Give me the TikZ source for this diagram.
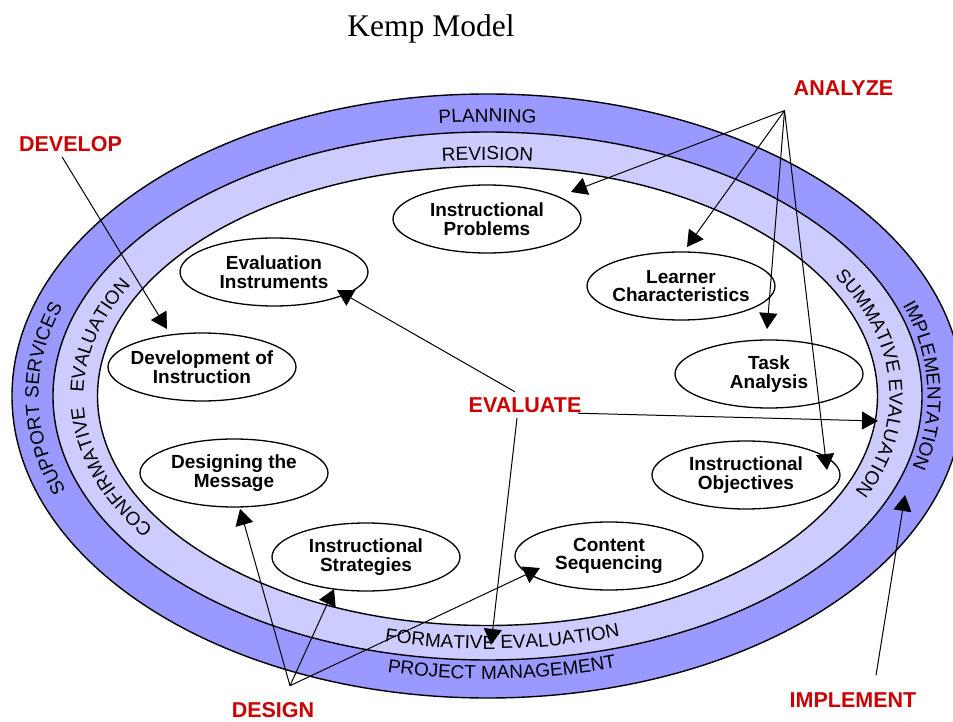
\documentclass[tikz,border=0pt]{standalone}
\usepackage{fontspec}
\setmainfont{Liberation Serif}
\setsansfont{Liberation Sans}
\usetikzlibrary{shapes.geometric,arrows.meta,decorations.text,calc}

\definecolor{outerband}{RGB}{153,153,255}
\definecolor{innerband}{RGB}{204,204,255}
\definecolor{phase}{RGB}{204,0,0}

\newcommand\ringfont{\sffamily\fontsize{19}{19}\selectfont}
% text set along an elliptical arc around the common centre
% #1 x radius, #2 y radius, #3 start angle, #4 end angle, #5 text
\newcommand\ringlabel[5]{%
  \path[decorate,decoration={text along path,text align=center,text={|\ringfont|#5}}]
    (487.5,325) ++(#3:#1 and #2) arc[start angle=#3,end angle=#4,x radius=#1,y radius=#2];}

\tikzset{
  ring/.style={draw=black,line width=1.4pt},
  stage/.style={ellipse,draw=black,line width=1.3pt,fill=white,
    minimum width=188pt,minimum height=68pt,inner xsep=-7pt,inner ysep=0pt,
    align=center,font=\sffamily\bfseries\fontsize{19}{18.5}\selectfont},
  phaselabel/.style={text=phase,inner sep=0pt,
    font=\sffamily\bfseries\fontsize{21.5}{21.5}\selectfont},
  link/.style={line width=1pt,-{Triangle[length=16pt,width=18pt]}},
}

\begin{document}
\begin{tikzpicture}[x=1pt,y=1pt]
\useasboundingbox (0,0) rectangle (953,721);
\clip (0,0) rectangle (953,721);

\node[font=\rmfamily\fontsize{31.5}{31.5}\selectfont,anchor=base,inner sep=0pt] (title) at (431,684) {Kemp Model};

% the three nested rings
\path[ring,fill=outerband] (487.5,325) ellipse [x radius=475.5,y radius=302];
\path[ring,fill=innerband] (487.5,325) ellipse [x radius=434.5,y radius=264];
\path[ring,fill=white]     (487.5,325) ellipse [x radius=390,y radius=229.5];

% ring captions
\ringlabel{445}{274}{115}{65}{PLANNING}
\ringlabel{404}{236}{115}{65}{REVISION}
\ringlabel{449}{274}{225.5}{135.5}{SUPPORT SERVICES}
\ringlabel{404}{236}{235}{155}{CONFIRMATIVE}
\ringlabel{404}{236}{208.5}{128.5}{EVALUATION}
\ringlabel{402}{236}{47.7}{-42.3}{SUMMATIVE EVALUATION}
\ringlabel{440}{274}{46.7}{-43.3}{IMPLEMENTATION}
\ringlabel{418}{253}{227.5}{317.5}{FORMATIVE EVALUATION}
\ringlabel{455}{283}{227.2}{317.2}{PROJECT MANAGEMENT}

% the nine planning elements
\node[stage] (ip) at (487,502) {Instructional\\Problems};
\node[stage] (ei) at (274,449) {Evaluation\\Instruments};
\node[stage] (di) at (202,354) {Development of\\Instruction};
\node[stage] (dm) at (234,248) {Designing the\\Message};
\node[stage] (is) at (366,164) {Instructional\\Strategies};
\node[stage] (cs) at (609,165) {Content\\Sequencing};
\node[stage] (io) at (746,246) {Instructional\\Objectives};
\node[stage] (ta) at (769,347) {Task\\Analysis};
\node[stage] (lc) at (681,435) {Learner\\Characteristics};

% phase labels
\node[phaselabel] (analyze)   at (843.5,633) {ANALYZE};
\node[phaselabel] (develop)   at (70.5,577)  {DEVELOP};
\node[phaselabel] (evaluate)  at (525,315.5) {EVALUATE};
\node[phaselabel] (design)    at (273,10.5)  {DESIGN};
\node[phaselabel] (implement) at (853,21)    {IMPLEMENT};

% where the pointers leave the labels
\coordinate (azA) at ($(analyze.south west)+(-9,-15)$);
\coordinate (dvA) at ($(develop.south)+(-8.5,-5)$);
\coordinate (evN) at ($(evaluate.north)+(-10,6)$);
\coordinate (evE) at ($(evaluate.south east)+(-4,0)$);
\coordinate (evS) at ($(evaluate.south)+(-8,-5)$);
\coordinate (dsA) at ($(design.north)+(17,17)$);
\coordinate (imA) at ($(implement.north)+(23,17)$);

% where the pointers end
\coordinate (ipT) at (571,529);
\coordinate (lcT) at (687,474);
\coordinate (taT) at (767,392);
\coordinate (ioT) at (827,251);
\coordinate (diT) at (167,392);
\coordinate (eiT) at (337,431);
\coordinate (seT) at (878,300);
\coordinate (feT) at (491,76);
\coordinate (dmT) at (240,212);
\coordinate (isT) at (334,132);
\coordinate (csT) at (540,153);
\coordinate (imT) at (905,226);

\draw[link] (azA) -- (ipT);
\draw[link] (azA) -- (lcT);
\draw[link] (azA) -- (taT);
\draw[link] (azA) -- (ioT);
\draw[link] (dvA) -- (diT);
\draw[link] (evN) -- (eiT);
\draw[link] (evE) -- (seT);
\draw[link] (evS) -- (feT);
\draw[link] (dsA) -- (dmT);
\draw[link] (dsA) -- (isT);
\draw[link] (dsA) -- (csT);
\draw[link] (imA) -- (imT);
\end{tikzpicture}
\end{document}
